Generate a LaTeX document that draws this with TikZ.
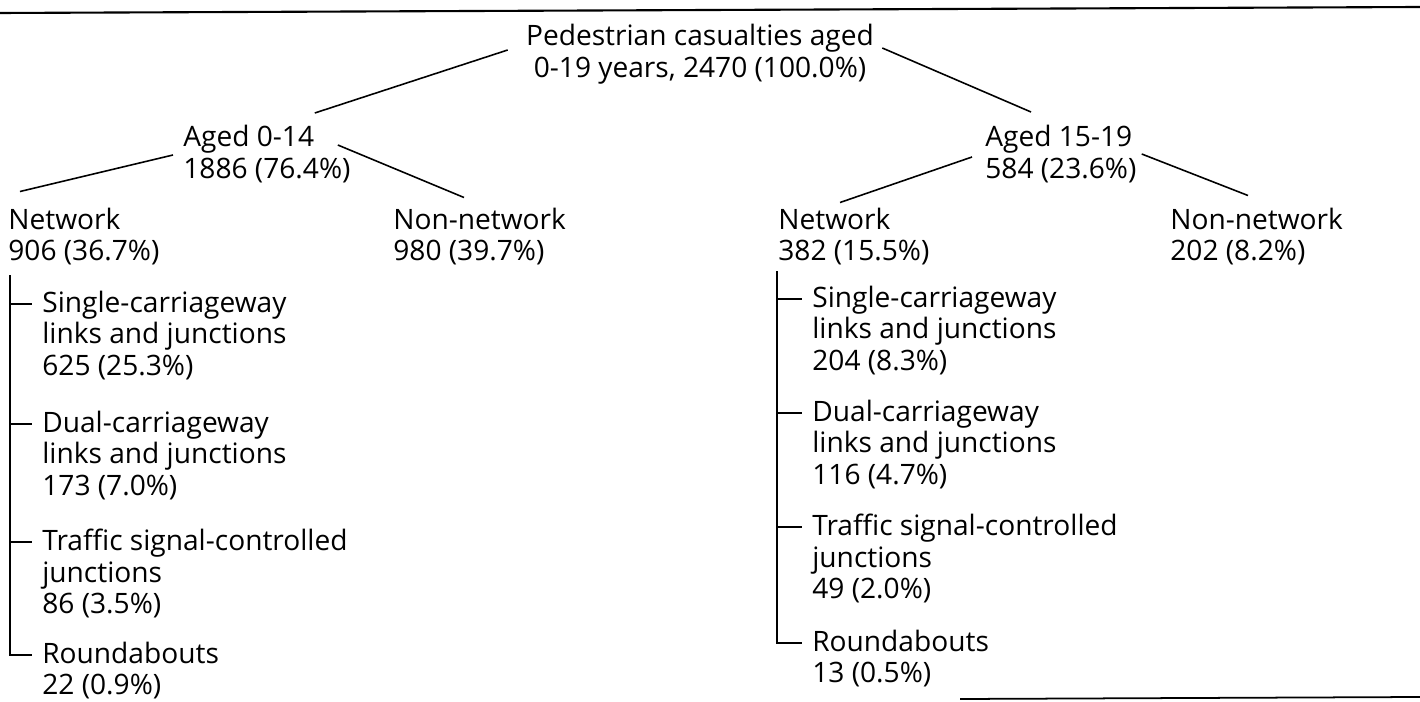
\documentclass[tikz,border=0pt]{standalone}
\usepackage{fontspec}
\setmainfont{Open Sans}
\usetikzlibrary{positioning}
\tikzset{
	lbl/.style={anchor=west, align=left, inner sep=0pt},
	branch/.style={line width=0.9pt}
}

\begin{document}
\begin{tikzpicture}[font=\fontsize{16}{17.9}\selectfont]
	\useasboundingbox (0,0) rectangle (28.4,-14.04);
	\draw[line width=1.2pt] (0,-0.26) -- (28.4,-0.14);
	\draw[line width=1pt] (19.2,-13.98) -- (28.4,-13.94);
	% top of the tree
	\node[align=center, inner sep=0pt] (top) at (14.0,-1.08) {Pedestrian casualties aged\\0-19 years, 2470 (100.0\%)};
	\node[lbl] (age0) at (3.66,-3.08) {Aged 0-14\\1886 (76.4\%)};
	\node[lbl] (age15) at (19.7,-3.08) {Aged 15-19\\584 (23.6\%)};
	\node[lbl] (netL) at (0.16,-4.73) {Network\\906 (36.7\%)};
	\node[lbl] (nonL) at (7.86,-4.73) {Non-network\\980 (39.7\%)};
	\node[lbl] (netR) at (15.56,-4.73) {Network\\382 (15.5\%)};
	\node[lbl] (nonR) at (23.4,-4.73) {Non-network\\202 (8.2\%)};
	\draw[branch] ([shift={(-0.36,0.08)}]top.west) -- ([shift={(-0.72,0.82)}]age0.east);
	\draw[branch] ([shift={(0.16,0.12)}]top.east) -- ([shift={(0.92,0.84)}]age15.west);
	\draw[branch] ([shift={(-0.2,-0.02)}]age0.west) -- ([shift={(0.24,0.32)}]netL.north west);
	\draw[branch] ([shift={(-0.26,0.18)}]age0.east) -- ([shift={(1.42,0.2)}]nonL.north west);
	\draw[branch] ([shift={(-0.26,-0.06)}]age15.west) -- ([shift={(1.24,0.1)}]netR.north west);
	\draw[branch] ([shift={(0.1,0)}]age15.east) -- ([shift={(1.56,0.24)}]nonR.north west);
	% network, aged 0-14
	\node[lbl] (sgL) at (0.84,-6.71) {Single-carriageway\\links and junctions\\625 (25.3\%)};
	\node[lbl] (duL) at (0.84,-9.11) {Dual-carriageway\\links and junctions\\173 (7.0\%)};
	\node[lbl] (tsL) at (0.84,-11.47) {Traffic signal-controlled\\junctions\\86 (3.5\%)};
	\node[lbl] (rbL) at (0.84,-13.415) {Roundabouts\\22 (0.9\%)};
	\draw[branch] ([shift={(0.04,-0.2)}]netL.south west) |- ([shift={(-0.2,-0.26)}]rbL.north west);
	\draw[branch] ([shift={(-0.64,-0.26)}]sgL.north west) -- ([shift={(-0.2,-0.26)}]sgL.north west);
	\draw[branch] ([shift={(-0.64,-0.26)}]duL.north west) -- ([shift={(-0.2,-0.26)}]duL.north west);
	\draw[branch] ([shift={(-0.64,-0.26)}]tsL.north west) -- ([shift={(-0.2,-0.26)}]tsL.north west);
	% network, aged 15-19
	\node[lbl] (sgR) at (16.24,-6.61) {Single-carriageway\\links and junctions\\204 (8.3\%)};
	\node[lbl] (duR) at (16.24,-8.89) {Dual-carriageway\\links and junctions\\116 (4.7\%)};
	\node[lbl] (tsR) at (16.24,-11.17) {Traffic signal-controlled\\junctions\\49 (2.0\%)};
	\node[lbl] (rbR) at (16.24,-13.175) {Roundabouts\\13 (0.5\%)};
	\draw[branch] ([shift={(-0.02,-0.12)}]netR.south west) |- ([shift={(-0.2,-0.26)}]rbR.north west);
	\draw[branch] ([shift={(-0.7,-0.26)}]sgR.north west) -- ([shift={(-0.2,-0.26)}]sgR.north west);
	\draw[branch] ([shift={(-0.7,-0.26)}]duR.north west) -- ([shift={(-0.2,-0.26)}]duR.north west);
	\draw[branch] ([shift={(-0.7,-0.26)}]tsR.north west) -- ([shift={(-0.2,-0.26)}]tsR.north west);
\end{tikzpicture}
\end{document}
